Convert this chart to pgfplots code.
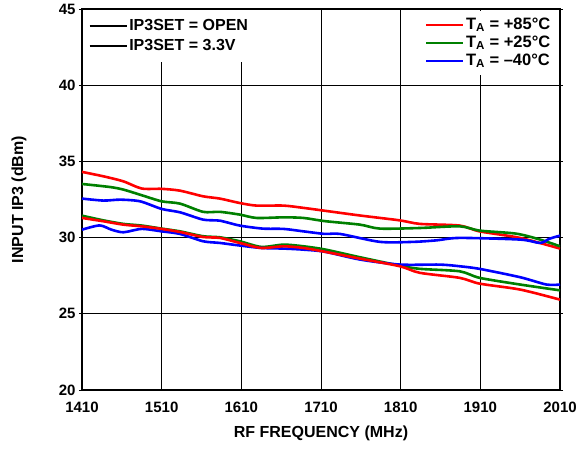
\documentclass[border=0pt]{standalone}
\usepackage{fontspec}
\setmainfont{Liberation Sans}
\usepackage{pgfplots}
\pgfplotsset{compat=1.18}

\definecolor{cR}{RGB}{255,0,0}
\definecolor{cG}{RGB}{0,128,0}
\definecolor{cB}{RGB}{0,0,255}

\pgfplotsset{
  base/.style={
    width=478pt,height=381pt,scale only axis,
    xmin=1410,xmax=2010,ymin=20,ymax=45,
    xtick={1410,1510,1610,1710,1810,1910,2010},
    ytick={20,25,30,35,40,45},
  },
  leg/.style={
    legend cell align=left,
    legend image code/.code={\draw[##1,line width=2.6pt] (0pt,0pt) -- (37pt,0pt);},
    legend style={draw=none,fill=white,
      font=\bfseries\fontsize{16}{18}\selectfont,
      nodes={inner sep=1.5pt,text height=11.5pt,text depth=3pt}},
  },
}

\begin{document}
\begin{tikzpicture}
\begin{axis}[base,leg,
  grid=major,major grid style={black,line width=0.8pt},
  axis line style={line width=1.6pt},
  xtick style={draw=none},
  ytick style={black,line width=0.8pt},
  tick align=outside,major tick length=3pt,
  /pgf/number format/assume math mode=true,
  ticklabel style={font=\bfseries\fontsize{15}{17}\selectfont},
  xticklabel style={yshift=-5pt},
  xticklabels={1410,1510,1610,1710,1810,1910,2010},
  xlabel={RF FREQUENCY (MHz)},
  ylabel={INPUT IP3 (dBm)},
  label style={font=\bfseries\fontsize{16}{18}\selectfont},
  xlabel style={at={(axis description cs:0.5,-0.115)},anchor=center},
  ylabel style={at={(axis description cs:-0.132,0.5)},anchor=center},
  legend style={at={(1,1)},anchor=north east,xshift=-1pt,yshift=-2pt,
    inner xsep=7pt,inner ysep=5pt,row sep=0.5pt,
    font=\bfseries\fontsize{16.5}{18}\selectfont},
  every axis plot/.append style={line width=2.6pt,smooth,tension=0.45},
]
% upper group
\addplot[cR] coordinates {
(1410,34.31)(1437,34.02)(1462,33.69)(1485,33.22)(1510,33.20)(1533,33.08)
(1562,32.71)(1583,32.56)(1608,32.27)(1629,32.10)(1663,32.10)(1688,31.95)
(1715,31.76)(1759,31.45)(1809,31.13)(1834,30.90)(1884,30.79)(1909,30.41)
(1960,29.98)(2010,29.28)};
\addlegendentry{T\textsubscript{A} = +85°C}
\addplot[cG] coordinates {
(1410,33.52)(1445,33.32)(1462,33.15)(1485,32.78)(1510,32.38)(1533,32.23)
(1562,31.69)(1583,31.69)(1608,31.51)(1629,31.29)(1663,31.33)(1688,31.29)
(1715,31.08)(1759,30.85)(1784,30.59)(1834,30.63)(1884,30.74)(1909,30.46)
(1955,30.26)(1985,29.87)(2010,29.43)};
\addlegendentry{T\textsubscript{A} = +25°C}
\addplot[cB] coordinates {
(1410,32.56)(1437,32.43)(1458,32.49)(1483,32.38)(1510,31.88)(1533,31.66)
(1562,31.18)(1583,31.11)(1608,30.79)(1637,30.59)(1663,30.57)(1688,30.41)
(1715,30.24)(1734,30.24)(1784,29.72)(1826,29.72)(1855,29.82)(1884,29.98)
(1960,29.87)(1985,29.65)(1997,29.93)(2010,30.13)};
\addlegendentry{T\textsubscript{A} = –40°C}
% lower group
\addplot[cG,forget plot] coordinates {
(1410,31.44)(1437,31.13)(1462,30.90)(1485,30.79)(1510,30.59)(1533,30.41)
(1562,30.09)(1583,30.02)(1608,29.76)(1635,29.39)(1663,29.54)(1688,29.43)
(1715,29.22)(1759,28.71)(1809,28.16)(1834,27.95)(1884,27.79)(1909,27.36)
(1960,26.92)(2010,26.54)};
\addplot[cB,forget plot] coordinates {
(1410,30.52)(1432,30.80)(1447,30.52)(1462,30.35)(1485,30.57)(1510,30.41)
(1533,30.24)(1562,29.76)(1583,29.65)(1608,29.48)(1635,29.32)(1663,29.28)
(1688,29.21)(1715,29.07)(1759,28.56)(1809,28.23)(1859,28.23)(1884,28.12)
(1909,27.95)(1960,27.40)(1993,26.92)(2010,26.92)};
\addplot[cR,forget plot] coordinates {
(1410,31.29)(1437,31.07)(1462,30.85)(1485,30.74)(1510,30.57)(1533,30.37)
(1562,30.04)(1583,29.98)(1608,29.65)(1635,29.32)(1663,29.43)(1688,29.32)
(1715,29.07)(1759,28.62)(1809,28.12)(1834,27.69)(1884,27.36)(1909,26.98)
(1960,26.59)(2010,25.93)};
\end{axis}
\begin{axis}[base,leg,hide axis,
  legend style={at={(0,1)},anchor=north west,xshift=1pt,yshift=-1pt,
    inner xsep=5pt,inner ysep=7pt,row sep=2.5pt}]
\addlegendimage{black}
\addlegendentry{IP3SET = OPEN}
\addlegendimage{black}
\addlegendentry{IP3SET = 3.3V}
\end{axis}
\pgfresetboundingbox
\path (-82pt,-58pt) rectangle (506pt,390pt);
\end{tikzpicture}
\end{document}
